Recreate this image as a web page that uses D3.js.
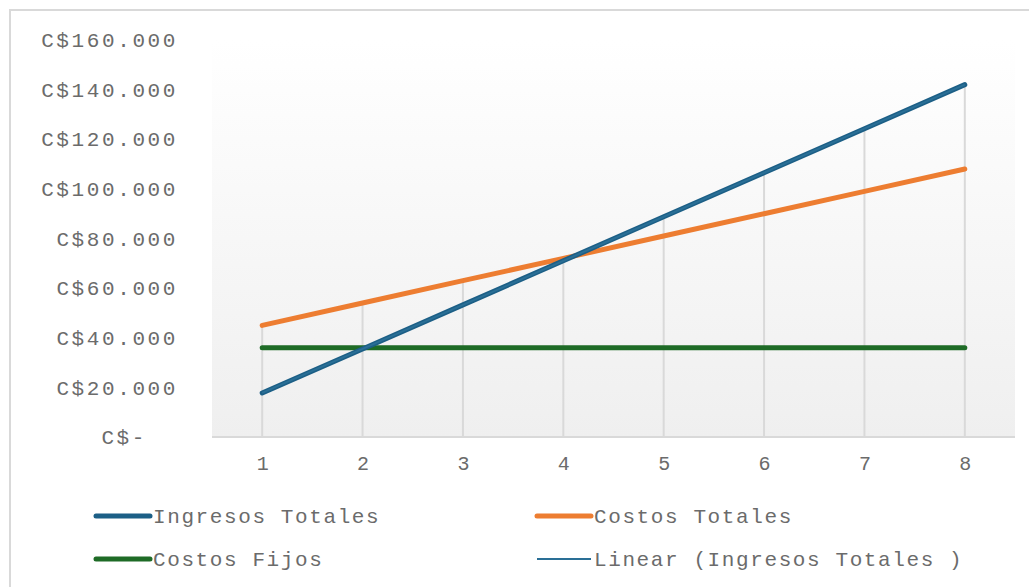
<!DOCTYPE html>
<html>
<head>
<meta charset="utf-8">
<script src="https://cdn.jsdelivr.net/npm/d3@7"></script>
<style>
  html, body { margin: 0; padding: 0; background: #fff; }
  svg { display: block; }
  text { font-family: "Liberation Mono", "DejaVu Sans Mono", monospace; fill: #6b6b6b; }
</style>
</head>
<body>
<svg id="chart" width="1029" height="587"></svg>
<script>
const categories = [1, 2, 3, 4, 5, 6, 7, 8];
const ingresosTotales = [17750, 35500, 53250, 71000, 88750, 106500, 124250, 142000];
const costosTotales = [45000, 54000, 63000, 72000, 81000, 90000, 99000, 108000];
const costosFijos = [36000, 36000, 36000, 36000, 36000, 36000, 36000, 36000];
const yTicks = [0, 20000, 40000, 60000, 80000, 100000, 120000, 140000, 160000];
const yTickLabels = ["C$-", "C$20.000", "C$40.000", "C$60.000", "C$80.000", "C$100.000", "C$120.000", "C$140.000", "C$160.000"];
const seriesNames = ["Ingresos Totales", "Costos Totales", "Costos Fijos", "Linear (Ingresos Totales )"];

const svg = d3.select("#chart");
const plot = { left: 212, right: 1015, top: 40, bottom: 437 };
const textColor = "#6b6b6b";

// chart border
svg.append("rect").attr("x", 10).attr("y", 10).attr("width", 1040).attr("height", 600)
  .attr("fill", "#fff").attr("stroke", "#d9d9d9").attr("stroke-width", 2);

// gradient plot background
const defs = svg.append("defs");
const grad = defs.append("linearGradient").attr("id", "bg").attr("x1", 0).attr("y1", 0).attr("x2", 0).attr("y2", 1);
grad.append("stop").attr("offset", "0%").attr("stop-color", "#ffffff");
grad.append("stop").attr("offset", "100%").attr("stop-color", "#efefef");
svg.append("rect").attr("x", plot.left).attr("y", plot.top)
  .attr("width", plot.right - plot.left).attr("height", plot.bottom - plot.top)
  .attr("fill", "url(#bg)");

const x = d3.scalePoint().domain(categories).range([plot.left, plot.right]).padding(0.5);
const y = d3.scaleLinear().domain([0, 160000]).range([plot.bottom, plot.top]);

// drop lines
const maxVals = categories.map((c, i) => Math.max(ingresosTotales[i], costosTotales[i], costosFijos[i]));
svg.append("g").selectAll("line").data(categories).join("line")
  .attr("x1", d => x(d)).attr("x2", d => x(d))
  .attr("y1", (d, i) => y(maxVals[i])).attr("y2", y(0))
  .attr("stroke", "#d9d9d9").attr("stroke-width", 2);

// x axis
const xAxis = svg.append("g").attr("transform", `translate(0,${plot.bottom})`)
  .call(d3.axisBottom(x).tickSize(0).tickPadding(19));
xAxis.select(".domain").attr("d", `M${plot.left},0H${plot.right}`).attr("stroke", "#d9d9d9").attr("stroke-width", 2);
xAxis.selectAll("text").attr("font-size", 20).attr("font-family", "Liberation Mono, monospace").attr("fill", textColor);

// y axis labels
const yAxis = svg.append("g").attr("transform", `translate(178,0)`)
  .call(d3.axisLeft(y).tickValues(yTicks).tickSize(0).tickPadding(0)
    .tickFormat((d, i) => yTickLabels[i]));
yAxis.select(".domain").remove();
yAxis.selectAll("text").attr("font-size", 21).attr("letter-spacing", "2.6px")
  .attr("font-family", "Liberation Mono, monospace").attr("fill", textColor);
yAxis.selectAll(".tick").filter(d => d === 0).select("text").attr("x", -31);

const line = d3.line().x((d, i) => x(categories[i])).y(d => y(d));
const colors = ["#1c5f86", "#ed7d31", "#1e6b26", "#2a6f96"];

svg.append("path").datum(costosFijos).attr("d", line).attr("fill", "none")
  .attr("stroke", colors[2]).attr("stroke-width", 5).attr("stroke-linecap", "round");
svg.append("path").datum(costosTotales).attr("d", line).attr("fill", "none")
  .attr("stroke", colors[1]).attr("stroke-width", 5).attr("stroke-linecap", "round");
svg.append("path").datum(ingresosTotales).attr("d", line).attr("fill", "none")
  .attr("stroke", colors[0]).attr("stroke-width", 5).attr("stroke-linecap", "round");

// linear trendline of ingresos totales (least squares)
const mx = d3.mean(categories), my = d3.mean(ingresosTotales);
const slope = d3.sum(categories.map((c, i) => (c - mx) * (ingresosTotales[i] - my))) / d3.sum(categories.map(c => (c - mx) ** 2));
const intercept = my - slope * mx;
const trend = categories.map(c => intercept + slope * c);
svg.append("path").datum(trend).attr("d", line).attr("fill", "none")
  .attr("stroke", colors[3]).attr("stroke-width", 2);

// legend
const legendItems = [
  { name: seriesNames[0], color: colors[0], w: 5, x: 96, y: 516 },
  { name: seriesNames[1], color: colors[1], w: 5, x: 537, y: 516 },
  { name: seriesNames[2], color: colors[2], w: 5, x: 96, y: 559 },
  { name: seriesNames[3], color: colors[3], w: 2, x: 537, y: 559 }
];
const lg = svg.append("g").selectAll("g").data(legendItems).join("g");
lg.append("line").attr("x1", d => d.x).attr("x2", d => d.x + 54)
  .attr("y1", d => d.y).attr("y2", d => d.y)
  .attr("stroke", d => d.color).attr("stroke-width", d => d.w).attr("stroke-linecap", d => d.w > 3 ? "round" : "butt");
lg.append("text").attr("x", d => d.x + 57).attr("y", d => d.y).attr("dy", "0.35em")
  .attr("font-size", 21).attr("letter-spacing", "1.6px").attr("fill", textColor).text(d => d.name);
</script>
</body>
</html>
